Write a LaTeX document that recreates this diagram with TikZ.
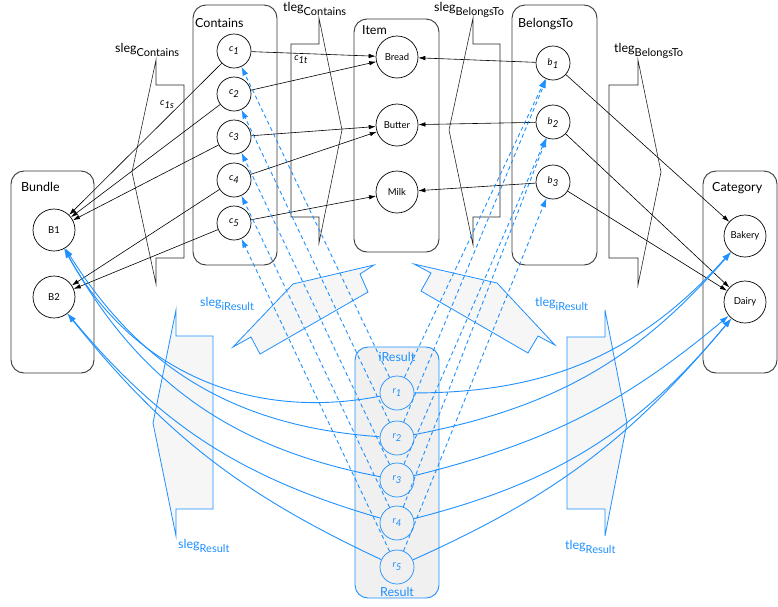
\documentclass[tikz,border=0pt]{standalone}
\usepackage{fontspec}
\setmainfont{Lato}
\usepackage{tikz}
\usetikzlibrary{arrows.meta}
\definecolor{resblue}{RGB}{30,144,255}
\definecolor{boxgray}{RGB}{55,55,55}
\pgfdeclarelayer{boxlayer}
\pgfdeclarelayer{edgelayer}
\pgfdeclarelayer{nodelayer}
\pgfsetlayers{boxlayer,edgelayer,nodelayer,main}

\newcommand{\leglbl}[2]{#1\raisebox{-4pt}{\fontsize{11}{12}\selectfont #2}}
\newcommand{\elbl}[2]{\textit{#1}\raisebox{-3pt}{\textit{#2}}}

\tikzset{
  relbox/.style={draw=boxgray, line width=0.9pt, rounded corners=13pt},
  resbox/.style={draw=resblue, fill=gray!12, line width=0.9pt, rounded corners=13pt},
  leg/.style={draw=black!85, line width=0.6pt},
  resleg/.style={draw=resblue, fill=gray!7, line width=0.8pt},
  ent/.style={circle, draw, line width=0.7pt, minimum size=42pt, inner sep=0pt, font=\fontsize{9.5}{11}\selectfont},
  tup/.style={circle, draw, line width=0.7pt, minimum size=34pt, inner sep=0pt, font=\fontsize{9.5}{11}\selectfont},
  rtup/.style={tup, draw=resblue, text=resblue},
  boxlbl/.style={anchor=base west, inner sep=0pt, font=\fontsize{12.5}{14}\selectfont},
  leglabel/.style={anchor=base west, inner sep=0pt, font=\fontsize{12.5}{14}\selectfont},
  smalllbl/.style={inner sep=0pt, font=\fontsize{9.5}{11}\selectfont},
  fk/.style={-{Latex[length=7pt,width=4.5pt]}, line width=0.6pt},
  res/.style={-{Latex[length=9pt,width=6pt]}, draw=resblue, line width=0.9pt},
  resdash/.style={res, dash pattern=on 4pt off 3pt},
}

\begin{document}
\begin{tikzpicture}[x=1pt, y=1pt]
\useasboundingbox (0,0) rectangle (778,-606);
\begin{pgfonlayer}{boxlayer}
	\draw[relbox] (11,-171) rectangle (94,-373);
	\draw[relbox] (193,-5) rectangle (277,-265);
	\draw[relbox] (354,-19) rectangle (439,-252);
	\draw[relbox] (512,-5) rectangle (597,-265);
	\draw[relbox] (703,-171) rectangle (777,-373);
	\draw[resbox] (355,-347) rectangle (439,-598);
	% legs
	\draw[leg] (156,-60) -- (156,-85) -- (184,-85) -- (184,-258) -- (156,-258) -- (156,-284) -- (132,-172) -- cycle;
	\draw[leg] (319,-18) -- (319,-44) -- (291,-44) -- (291,-217) -- (319,-217) -- (319,-243) -- (342,-130) -- cycle;
	\draw[leg] (473,-18) -- (473,-44) -- (500,-44) -- (500,-217) -- (473,-217) -- (473,-245) -- (449,-130) -- cycle;
	\draw[leg] (638,-60) -- (638,-85) -- (609,-85) -- (609,-258) -- (638,-258) -- (638,-285) -- (661,-172) -- cycle;
	\draw[resleg] (176,-310) -- (176,-336) -- (213,-336) -- (213,-509) -- (176,-509) -- (176,-536) -- (153,-423) -- cycle;
	\draw[resleg] (605,-310) -- (605,-337) -- (567,-337) -- (567,-509) -- (605,-509) -- (605,-536) -- (627,-423) -- cycle;
	\draw[resleg] (374,-265) -- (360,-274) -- (368,-292) -- (260,-354) -- (251,-337) -- (233,-347) -- (293,-284) -- cycle;
	\draw[resleg] (414,-264) -- (431,-273) -- (421,-291) -- (528,-353) -- (538,-336) -- (555,-345) -- (497,-283) -- cycle;
\end{pgfonlayer}
\begin{pgfonlayer}{nodelayer}
	\node[boxlbl] (bundlelbl) at (21,-191) {Bundle};
	\node[boxlbl] (containslbl) at (195,-27) {Contains};
	\node[boxlbl] (itemlbl) at (362,-34) {Item};
	\node[boxlbl] (belongslbl) at (518,-27) {BelongsTo};
	\node[boxlbl] (categorylbl) at (712,-191) {Category};
	\node[boxlbl, anchor=base, text=resblue] (ireslbl) at (397,-361) {iResult};
	\node[boxlbl, anchor=base, text=resblue] (reslbl) at (397,-596) {Result};
	\node[ent] (B1) at (54,-230) {B1};
	\node[ent] (B2) at (54,-297) {B2};
	\node[tup] (c1) at (234,-51) {\elbl{c}{1}};
	\node[tup] (c2) at (234,-94) {\elbl{c}{2}};
	\node[tup] (c3) at (234,-137) {\elbl{c}{3}};
	\node[tup] (c4) at (234,-180) {\elbl{c}{4}};
	\node[tup] (c5) at (234,-223) {\elbl{c}{5}};
	\node[ent] (bread) at (397,-57) {Bread};
	\node[ent] (butter) at (397,-125) {Butter};
	\node[ent] (milk) at (397,-192) {Milk};
	\node[tup] (b1) at (553,-63) {\elbl{b}{1}};
	\node[tup] (b2) at (553,-122) {\elbl{b}{2}};
	\node[tup] (b3) at (553,-182) {\elbl{b}{3}};
	\node[ent] (bakery) at (745,-236) {Bakery};
	\node[ent] (dairy) at (745,-302) {Dairy};
	\node[rtup] (r1) at (397,-393) {\elbl{r}{1}};
	\node[rtup] (r2) at (397,-438) {\elbl{r}{2}};
	\node[rtup] (r3) at (397,-480) {\elbl{r}{3}};
	\node[rtup] (r4) at (397,-523) {\elbl{r}{4}};
	\node[rtup] (r5) at (397,-567) {\elbl{r}{5}};
	\node[leglabel] (slegcon) at (115,-52) {\leglbl{sleg}{Contains}};
	\node[leglabel] (tlegcon) at (283,-11) {\leglbl{tleg}{Contains}};
	\node[leglabel] (slegbel) at (434,-11) {\leglbl{sleg}{BelongsTo}};
	\node[leglabel] (tlegbel) at (614,-52) {\leglbl{tleg}{BelongsTo}};
	\node[leglabel, text=resblue] (slegires) at (200,-306) {\leglbl{sleg}{iResult}};
	\node[leglabel, text=resblue] (tlegires) at (535,-306) {\leglbl{tleg}{iResult}};
	\node[leglabel, text=resblue] (slegres) at (178,-548) {\leglbl{sleg}{Result}};
	\node[leglabel, text=resblue] (tlegres) at (565,-549) {\leglbl{tleg}{Result}};
	\node[smalllbl] (c1s) at (167,-105) {\elbl{c}{1s}};
	\node[smalllbl] (c1t) at (301,-60) {\elbl{c}{1t}};
\end{pgfonlayer}
\begin{pgfonlayer}{edgelayer}
	\draw[fk] (c1) -- (B1);
	\draw[fk] (c2) -- (B1);
	\draw[fk] (c3) -- (B1);
	\draw[fk] (c4) -- (B2);
	\draw[fk] (c5) -- (B2);
	\draw[fk] (c1) -- (bread);
	\draw[fk] (c2) -- (bread);
	\draw[fk] (c3) -- (butter);
	\draw[fk] (c4) -- (butter);
	\draw[fk] (c5) -- (milk);
	\draw[fk] (b1) -- (bread);
	\draw[fk] (b2) -- (butter);
	\draw[fk] (b3) -- (milk);
	\draw[fk] (b1) -- (bakery);
	\draw[fk] (b2) -- (dairy);
	\draw[fk] (b3) -- (dairy);
	\draw[resdash] (r1) -- (c1);
	\draw[resdash] (r2) -- (c2);
	\draw[resdash] (r3) -- (c3);
	\draw[resdash] (r4) -- (c4);
	\draw[resdash] (r5) -- (c5);
	\draw[resdash] (r1) -- (b1);
	\draw[resdash] (r2) -- (b1);
	\draw[resdash] (r3) -- (b2);
	\draw[resdash] (r4) -- (b2);
	\draw[resdash] (r5) -- (b3);
	\draw[res] (r1) to[bend left=36] (B1);
	\draw[res] (r2) to[bend left=27] (B1);
	\draw[res] (r3) to[bend left=25] (B1);
	\draw[res] (r4) to[bend left=17] (B2);
	\draw[res] (r5) to[bend left=13] (B2);
	\draw[res] (r1) to[bend right=24] (bakery);
	\draw[res] (r2) to[bend right=19] (bakery);
	\draw[res] (r3) to[bend right=13] (dairy);
	\draw[res] (r4) to[bend right=18] (dairy);
	\draw[res] (r5) to[bend right=13] (dairy);
\end{pgfonlayer}
\end{tikzpicture}
\end{document}
